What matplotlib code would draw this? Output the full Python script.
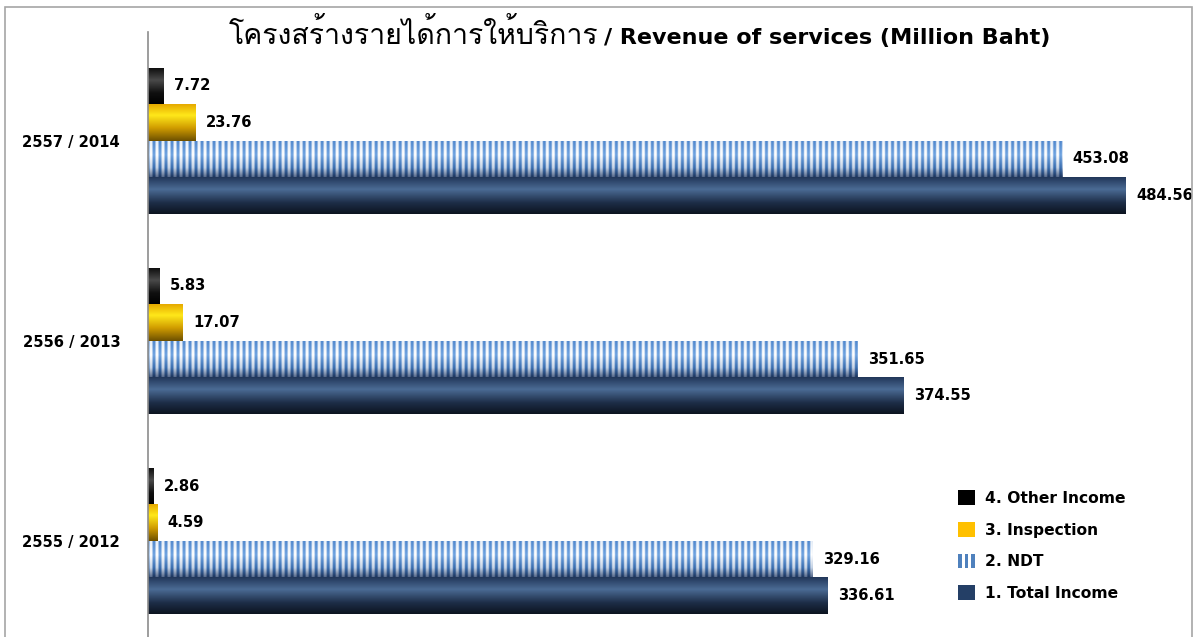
import numpy as np
import matplotlib
matplotlib.use("Agg")
import matplotlib.pyplot as plt
from matplotlib import font_manager as fm
from matplotlib.patches import Patch, Rectangle
from matplotlib.legend_handler import HandlerBase
from matplotlib.colors import to_rgb

# ---------------- data ----------------
years = ["2555 / 2012", "2556 / 2013", "2557 / 2014"]
total_income = [336.61, 374.55, 484.56]
ndt = [329.16, 351.65, 453.08]
inspection = [4.59, 17.07, 23.76]
other_income = [2.86, 5.83, 7.72]
series_names = ["1. Total Income", "2. NDT", "3. Inspection", "4. Other Income"]
title_th = "โครงสร้างรายได้การให้บริการ"
title_en = "/ Revenue of services (Million Baht)"

# ---------------- fonts ----------------
def find_thai_font():
    try:
        from fontTools.ttLib import TTFont
    except Exception:
        return None
    for f in fm.fontManager.ttflist:
        try:
            tt = TTFont(f.fname, fontNumber=0, lazy=True)
            cmap = tt.getBestCmap()
            if cmap and 0x0E42 in cmap and 0x0E23 in cmap:
                return f.name
        except Exception:
            pass
    return None

thai_font = find_thai_font()
plt.rcParams["font.family"] = ["DejaVu Sans"]

W, H = 1195, 637
PX_PER_UNIT = 2.018
fig = plt.figure(figsize=(W / 100, H / 100), dpi=100)

# border of the chart area
fig.patches.append(Rectangle((5 / W, -0.05), (1192 - 5) / W, 1.05 - 7 / H,
                             transform=fig.transFigure, fill=False,
                             edgecolor="#a6a6a6", linewidth=1.2))

ax = fig.add_axes([148 / W, 0.0, (1190 - 148) / W, 1 - 32 / H])
ax.set_xlim(0, (1190 - 148) / PX_PER_UNIT)
ax.set_ylim(-0.48, 2.5425)

h = 0.1825
y = np.arange(len(years))

# gradient definitions (top -> bottom stops)
grad_total = [(0.0, "#22375a"), (0.33, "#4b6b94"), (0.7, "#1d2d47"), (1.0, "#0c1420")]
grad_insp = [(0.0, "#e6aa00"), (0.3, "#ffe81a"), (0.65, "#d09c00"), (1.0, "#6e5000")]
grad_other = [(0.0, "#0a0a0a"), (0.35, "#4a4a4a"), (0.7, "#101010"), (1.0, "#000000")]
ndt_blue = [(0.0, "#4f86cc"), (0.4, "#6fa3e0"), (0.75, "#3a6eb0"), (1.0, "#1e3760")]
ndt_white = [(0.0, "#e8eff8"), (0.4, "#ffffff"), (0.75, "#c8d5e6"), (1.0, "#5a6d8e")]


def make_column(stops, n=64):
    pos = np.linspace(0, 1, n)
    xs = [s[0] for s in stops]
    cols = np.array([to_rgb(s[1]) for s in stops])
    return np.stack([np.interp(pos, xs, cols[:, k]) for k in range(3)], axis=-1)


series = [
    (total_income, -1.5, grad_total, "#243f66"),
    (ndt, -0.5, None, "#4f81bd"),
    (inspection, 0.5, grad_insp, "#ffc000"),
    (other_income, 1.5, grad_other, "#000000"),
]

STRIPE_PX = 6.0   # stripe period in pixels
SUB = 4           # image samples per pixel

for vals, off, grad, base in series:
    bars = ax.barh(y + off * h, vals, height=h, color=base, edgecolor="none", zorder=1)
    for rect, v in zip(bars, vals):
        x0, y0 = rect.get_x(), rect.get_y()
        ext = (x0, x0 + rect.get_width(), y0, y0 + rect.get_height())
        if grad is not None:
            img = make_column(grad)[:, None, :]
        else:
            n_cols = int(np.ceil(v * PX_PER_UNIT * SUB))
            px = (np.arange(n_cols) + 0.5) / SUB
            m = 0.5 - 0.5 * np.cos(2 * np.pi * px / STRIPE_PX)
            m = np.clip((m - 0.5) * 1.7 + 0.5, 0, 1)
            cb = make_column(ndt_blue)[:, None, :]
            cw = make_column(ndt_white)[:, None, :]
            img = cb * (1 - m[None, :, None]) + cw * m[None, :, None]
            ext = (x0, x0 + n_cols / (PX_PER_UNIT * SUB), y0, y0 + rect.get_height())
        im = ax.imshow(img, extent=ext, origin="upper", aspect="auto",
                       interpolation="antialiased", zorder=2)
        im.set_clip_path(rect)
        ax.annotate(f"{v:.2f}", (v, y0 + rect.get_height() / 2),
                    xytext=(7.5, 0), textcoords="offset points", ha="left", va="center",
                    fontsize=10.6, fontweight="bold", color="#000000", zorder=3)

ax.set_yticks(y)
ax.set_yticklabels(years, fontsize=10.6, fontweight="bold")
ax.tick_params(axis="y", length=0, pad=20)
ax.set_xticks([])
for s in ["top", "right", "bottom"]:
    ax.spines[s].set_visible(False)
ax.spines["left"].set_color("#8c8c8c")
ax.spines["left"].set_linewidth(1.2)
ax.set_facecolor("none")


# legend
class StripeHandler(HandlerBase):
    def create_artists(self, legend, orig_handle, xdescent, ydescent,
                       width, height, fontsize, trans):
        unit = width / 18.0
        arts = []
        for i in range(3):
            r = Rectangle((-xdescent + i * 7 * unit, -ydescent), 4 * unit, height,
                          facecolor=orig_handle.get_facecolor(), edgecolor="none",
                          transform=trans)
            arts.append(r)
        return arts


ndt_handle = Patch(facecolor="#4f81bd", edgecolor="none", label=series_names[1])
handles = [
    Patch(facecolor="#000000", edgecolor="none", label=series_names[3]),
    Patch(facecolor="#ffc000", edgecolor="none", label=series_names[2]),
    ndt_handle,
    Patch(facecolor="#243f66", edgecolor="none", label=series_names[0]),
]
ax.legend(handles=handles, loc="upper left", bbox_to_anchor=(952 / W, 1 - 484 / H),
          bbox_transform=fig.transFigure, frameon=False, ncol=1,
          prop={"weight": "bold", "size": 11.2}, handlelength=1.08, handleheight=1.08,
          handletextpad=0.62, labelspacing=1.03, borderaxespad=0,
          handler_map={ndt_handle: StripeHandler()})

# title
th_family = [thai_font, "DejaVu Sans"] if thai_font else ["DejaVu Sans"]
fig.text(598 / W, 1 - 44 / H, title_th, ha="right", va="baseline", fontsize=20.5,
         family=th_family)
fig.text(604 / W, 1 - 44 / H, title_en, ha="left", va="baseline", fontsize=16,
         fontweight="bold")

fig.savefig("out.png", dpi=100)
